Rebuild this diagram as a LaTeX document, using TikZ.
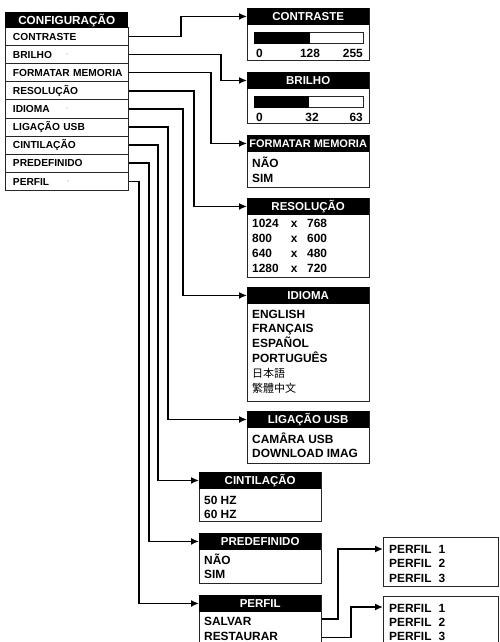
\documentclass[tikz,border=0pt]{standalone}
\usepackage{fontspec}
\setmainfont{Liberation Sans}
\newfontfamily\jpfont{Noto Sans CJK JP}
\newfontfamily\tcfont{Noto Sans CJK TC}
\usetikzlibrary{arrows.meta,calc}
\tikzset{
 hfont/.style={font=\fontsize{11.5}{13}\selectfont\bfseries},
 lfont/.style={font=\fontsize{10.2}{12}\selectfont\bfseries},
 bfont/.style={font=\fontsize{11.9}{13}\selectfont\bfseries},
 hdr/.style={fill=black, text=white, hfont, inner sep=0pt, anchor=north west, minimum height=16.5pt, text height=8.3pt, text depth=0pt},
 bx/.style={draw=black!85, line width=0.9pt, anchor=north west, inner sep=0pt},
 item/.style={bfont, anchor=west, inner sep=0pt, text height=8.5pt, text depth=0pt},
 lrow/.style={draw=black!85, line width=0.9pt, anchor=north west, minimum height=18.1pt, text width=108pt, inner xsep=7.5pt, inner ysep=0pt, align=left, lfont, text height=7.4pt, text depth=0pt},
 conn/.style={line width=1.5pt, -{Latex[length=8pt,width=7pt]}},
 bar/.style={draw=black!85, line width=0.9pt, anchor=north west, inner sep=0pt, minimum width=109pt, minimum height=11pt},
 gdot/.style={fill=black!40, inner sep=0pt, minimum size=1.4pt, circle},
}
\begin{document}
\begin{tikzpicture}[x=1pt,y=-1pt]
\useasboundingbox (0,0) rectangle (499,642);
\clip (0,0) rectangle (499,642);
\fill[white] (0,0) rectangle (499,642);

% left menu
\foreach \i/\t/\n in {0/CONTRASTE/lc, 1/BRILHO/lb, 2/FORMATAR MEMORIA/lf, 3/RESOLUÇÃO/lr, 4/IDIOMA/li, 5/LIGAÇÃO USB/lu, 6/CINTILAÇÃO/lt, 7/PREDEFINIDO/lp, 8/PERFIL/lq}
  \node[lrow] (\n) at (5,{27+18.1*\i}) {\mbox{\t}};
\node[hdr, minimum width=123pt, font=\fontsize{11.7}{13}\selectfont\bfseries] (cfg) at (5,11.5) {CONFIGURAÇÃO};
\node[gdot] (d1) at (67,54) {};
\node[gdot] (d2) at (67,108) {};
\node[gdot] (d3) at (68,181) {};

% CONTRASTE
\node[bx, minimum width=122pt, minimum height=52pt] (cbox) at (247,8) {};
\node[hdr, minimum width=122pt] (ch) at (247,8) {CONTRASTE};
\node[bar] (cbar) at (254,32) {};
\fill (cbar.north west) rectangle ($(cbar.south west)+(56,0)$);
\node[item] (c0) at (256,53) {0};
\node[item, anchor=center] (c1) at (310,53) {128};
\node[item, anchor=east] (c2) at (363,53) {255};

% BRILHO
\node[bx, minimum width=122pt, minimum height=51pt] (bbox) at (247,72) {};
\node[hdr, minimum width=122pt] (bh) at (247,72) {BRILHO};
\node[bar] (bbar) at (254,96) {};
\fill (bbar.north west) rectangle ($(bbar.south west)+(55,0)$);
\node[item] (b0) at (256,117) {0};
\node[item, anchor=center] (b1) at (312,117) {32};
\node[item, anchor=east] (b2) at (363,117) {63};

% FORMATAR MEMORIA
\node[bx, minimum width=122pt, minimum height=52pt] (fbox) at (247,135) {};
\node[hdr, minimum width=122pt, font=\fontsize{11}{13}\selectfont\bfseries] (fh) at (247,135) {FORMATAR MEMORIA};
\node[item] (f1) at (252,163) {NÃO};
\node[item] (f2) at (252,178) {SIM};

% RESOLUCAO
\node[bx, minimum width=122pt, minimum height=79pt] (rbox) at (247,198) {};
\node[hdr, minimum width=122pt] (rh) at (247,198) {RESOLUÇÃO};
\node[item] (r1) at (252,223) {\makebox[37pt][l]{1024}\makebox[10pt][c]{x}\hspace{8pt}768};
\node[item] (r2) at (252,238) {\makebox[37pt][l]{800}\makebox[10pt][c]{x}\hspace{8pt}600};
\node[item] (r3) at (252,253) {\makebox[37pt][l]{640}\makebox[10pt][c]{x}\hspace{8pt}480};
\node[item] (r4) at (252,268) {\makebox[37pt][l]{1280}\makebox[10pt][c]{x}\hspace{8pt}720};

% IDIOMA
\node[bx, minimum width=122pt, minimum height=114pt] (ibox) at (247,287) {};
\node[hdr, minimum width=122pt] (ih) at (247,287) {IDIOMA};
\node[item] (i1) at (252,314) {ENGLISH};
\node[item] (i2) at (252,328) {FRANÇAIS};
\node[item] (i3) at (252,343) {ESPAÑOL};
\node[item] (i4) at (252,358) {PORTUGUÊS};
\node[item, font=\fontsize{11}{13}\selectfont\jpfont] (i5) at (252,373) {日本語};
\node[item, font=\fontsize{11}{13}\selectfont\tcfont] (i6) at (252,388) {繁體中文};

% LIGACAO USB
\node[bx, minimum width=122pt, minimum height=52pt] (ubox) at (247,411) {};
\node[hdr, minimum width=122pt] (uh) at (247,411) {LIGAÇÃO USB};
\node[item] (u1) at (252,439) {CAMÂRA USB};
\node[item] (u2) at (252,453) {DOWNLOAD IMAG};

% CINTILACAO
\node[bx, minimum width=122pt, minimum height=49pt] (tbox) at (199,472) {};
\node[hdr, minimum width=122pt] (th) at (199,472) {CINTILAÇÃO};
\node[item] (t1) at (204,500) {50 HZ};
\node[item] (t2) at (204,514) {60 HZ};

% PREDEFINIDO
\node[bx, minimum width=122pt, minimum height=50pt] (pbox) at (199,533) {};
\node[hdr, minimum width=122pt] (ph) at (199,533) {PREDEFINIDO};
\node[item] (p1) at (204,560) {NÃO};
\node[item] (p2) at (204,574) {SIM};

% PERFIL
\node[bx, minimum width=122pt, minimum height=70pt] (qbox) at (199,595) {};
\node[hdr, minimum width=122pt] (qh) at (199,595) {PERFIL};
\node[item] (q1) at (204,621) {SALVAR};
\node[item] (q2) at (204,636) {RESTAURAR};

% PERFIL sub boxes
\node[bx, minimum width=115pt, minimum height=49pt] (s1) at (383,537) {};
\node[item] (s11) at (389,549) {PERFIL\hspace{7pt}1};
\node[item] (s12) at (389,563) {PERFIL\hspace{7pt}2};
\node[item] (s13) at (389,578) {PERFIL\hspace{7pt}3};
\node[bx, minimum width=115pt, minimum height=60pt] (s2) at (383,596) {};
\node[item] (s21) at (389,608) {PERFIL\hspace{7pt}1};
\node[item] (s22) at (389,622) {PERFIL\hspace{7pt}2};
\node[item] (s23) at (389,636) {PERFIL\hspace{7pt}3};

% connectors
\draw[conn] (lc.east) -- ++(52,0) |- (ch.west);
\draw[conn] (lb.east) -- ++(92,0) |- (bh.west);
\draw[conn] (lf.east) -- ++(82,0) |- (fh.west);
\draw[conn] (lr.east) -- ++(65,0) |- (rh.west);
\draw[conn] (li.east) -- ++(54,0) |- (ih.west);
\draw[conn] (lu.east) -- ++(39,0) |- (uh.west);
\draw[conn] (lt.east) -- ++(29,0) |- (th.west);
\draw[conn] (lp.east) -- ++(20,0) |- (ph.west);
\draw[conn] (lq.east) -- ++(10,0) |- (qh.west);
\draw[conn] ([yshift=2pt]qbox.east |- q1.west) -- ++(16,0) |- ([yshift=-12pt]s1.north west);
\draw[conn] ([yshift=-1.5pt]qbox.east |- q2.west) -- ++(29,0) |- ([yshift=-11pt]s2.north west);
\end{tikzpicture}
\end{document}
